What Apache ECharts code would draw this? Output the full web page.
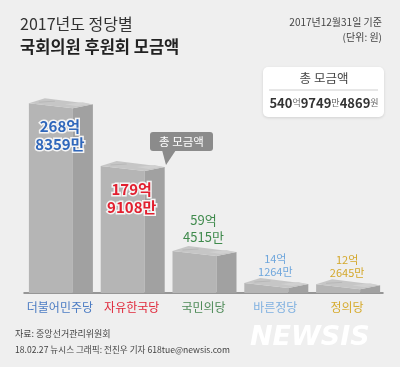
<!DOCTYPE html>
<html>
<head>
<meta charset="utf-8">
<script src="https://cdn.jsdelivr.net/npm/echarts@6/dist/echarts.min.js"></script>
<style>
html,body{margin:0;padding:0;background:#efefef;}
#chart{width:400px;height:367px;}
</style>
</head>
<body>
<div id="chart"></div>
<script>
// ---- data ----
const categories = ['더불어민주당', '자유한국당', '국민의당', '바른정당', '정의당'];
const eokValues = [268, 179, 59, 14, 12];       // 억 part
const manValues = [8359, 9108, 4515, 1264, 2645]; // 만 part
const totalParts = [540, 9749, 4869];           // 억, 만, 원

// ---- styles (kept separate) ----
const partyColors = ['#2f67bb', '#e21f2f', '#3f8a4c', '#6ea6dc', '#d3a72a'];
const catLabelColors = ['#4c7cc3', '#e0283a', '#4d8a57', '#7fb0e0', '#d6ab2e'];
const FONT = '"Noto Sans CJK KR", "Noto Sans", sans-serif';

const values = eokValues.map((e, i) => e + manValues[i] / 10000);
const seriesData = values.map((v, i) => [i, v]);

const labelSize = [15, 15, 13, 11, 11];
const labelBold = [true, true, false, false, false];
const labelLH = [18, 18, 17, 13, 13];

const chart = echarts.init(document.getElementById('chart'), null, {renderer: 'canvas'});

function renderItem(params, api) {
  const i = api.value(0);
  const v = api.value(1);
  const top = api.coord([i, v]);
  const base = api.coord([i, 0]);
  const c = top[0], yt = top[1], yb = base[1];
  const x0 = c - 31, x1 = c + 13, x2 = c + 33;
  const inside = i < 2;
  const txt = eokValues[i] + '억\n' + manValues[i] + '만';
  const textEl = {
    type: 'text',
    z2: 10,
    style: {
      text: txt,
      x: c,
      y: inside ? yt + 14 : yt - 5,
      align: 'center',
      verticalAlign: inside ? 'top' : 'bottom',
      fill: partyColors[i],
      fontSize: labelSize[i],
      fontWeight: labelBold[i] ? 'bold' : 'normal',
      fontFamily: FONT,
      lineHeight: labelLH[i],
      stroke: inside ? '#f4f4f4' : null,
      lineWidth: inside ? 3 : 0
    }
  };
  return {
    type: 'group',
    children: [
      {type: 'polygon', shape: {points: [[x0, yt], [x1, yt + 5], [x1, yb], [x0, yb]]},
       style: {fill: '#b5b5b5'}},
      {type: 'polygon', shape: {points: [[x1, yt + 5], [x2, yt + 1], [x2, yb], [x1, yb]]},
       style: {fill: '#a1a1a1'}},
      {type: 'polygon', shape: {points: [[x0, yt], [x0 + 16, yt - 5], [x2, yt + 1], [x1, yt + 5]]},
       style: {fill: '#c6c6c6'}},
      {type: 'polyline', shape: {points: [[x0 + 10, yt - 1], [x0 + 26, yt - 2]]},
       style: {stroke: '#b8b8b8', lineWidth: 1}},
      {type: 'polygon', shape: {points: [[x1 - 8, yt + 1], [x1 + 10, yt - 1], [x2 - 2, yt + 1], [x1 + 4, yt + 3]]},
       style: {fill: '#d0d0d0'}},
      textEl
    ]
  };
}

const richCats = {};
catLabelColors.forEach((col, i) => {
  richCats['c' + i] = {color: col, fontSize: 12, fontFamily: FONT};
});

const option = {
  backgroundColor: '#efefef',
  animation: false,
  grid: {left: 24, right: 17, top: 60, bottom: 74},
  xAxis: {
    type: 'category',
    data: categories,
    axisLine: {show: true, lineStyle: {color: '#7a7a7a', width: 1.5}},
    axisTick: {show: false},
    axisLabel: {
      interval: 0,
      margin: 8,
      fontSize: 12,
      fontFamily: FONT,
      formatter: (val) => '{c' + categories.indexOf(val) + '|' + val + '}',
      rich: richCats
    }
  },
  yAxis: {type: 'value', min: 0, max: 330, show: false, splitLine: {show: false}},
  series: [{
    type: 'custom',
    renderItem: renderItem,
    data: seriesData,
    clip: false
  }],
  graphic: [
    {type: 'text', left: 20, top: 16, style: {text: '2017년도 정당별', fontSize: 16, fontFamily: FONT, fill: '#333'}},
    {type: 'text', left: 20, top: 38, style: {text: '국회의원 후원회 모금액', fontSize: 16.5, fontWeight: 'bold', fontFamily: FONT, fill: '#222'}},
    {type: 'text', right: 18, top: 17, style: {text: '2017년12월31일 기준', fontSize: 10, fontFamily: FONT, fill: '#444', align: 'right'}},
    {type: 'text', right: 18, top: 32, style: {text: '(단위: 원)', fontSize: 10, fontFamily: FONT, fill: '#444', align: 'right'}},
    // total box
    {type: 'rect', shape: {x: 263, y: 67, width: 121, height: 50, r: 5},
     style: {fill: '#ffffff', shadowBlur: 3, shadowColor: 'rgba(0,0,0,0.12)', shadowOffsetY: 1}},
    {type: 'text', x: 324, y: 78, style: {text: '총 모금액', fontSize: 12.5, fontFamily: FONT, fill: '#444', align: 'center', verticalAlign: 'middle'}},
    {type: 'line', shape: {x1: 269, y1: 90, x2: 378, y2: 90}, style: {stroke: '#cfcfcf', lineWidth: 1}},
    {type: 'text', x: 324, y: 103, style: {
      text: '{n|' + totalParts[0] + '}{u|억}{n|' + totalParts[1] + '}{u|만}{n|' + totalParts[2] + '}{u|원}',
      align: 'center', verticalAlign: 'middle',
      rich: {
        n: {fontSize: 13, fontWeight: 'bold', fontFamily: FONT, fill: '#333', color: '#333'},
        u: {fontSize: 9, fontFamily: FONT, fill: '#666', color: '#666'}
      }
    }},
    // callout
    {type: 'rect', shape: {x: 150, y: 132, width: 63, height: 19, r: 3}, style: {fill: '#8b8b8b'}},
    {type: 'polygon', shape: {points: [[162, 150], [176, 150], [166, 165]]}, style: {fill: '#8b8b8b'}},
    {type: 'text', x: 181.5, y: 141.5, style: {text: '총 모금액', fontSize: 11.5, fontFamily: FONT, fill: '#fff', align: 'center', verticalAlign: 'middle'}},
    // footer
    {type: 'text', left: 15, top: 329, style: {text: '자료: 중앙선거관리위원회', fontSize: 9, fontFamily: FONT, fill: '#444'}},
    {type: 'text', left: 15, top: 345, style: {text: '18.02.27 뉴시스 그래픽: 전진우 기자 618tue@newsis.com', fontSize: 8.6, fontFamily: FONT, fill: '#444'}},
    {type: 'text', x: 250, y: 338, style: {
      text: 'NEWSIS', fontSize: 27, fontWeight: 900, fontStyle: 'italic', fontFamily: '"DejaVu Sans", sans-serif',
      fill: '#ffffff', verticalAlign: 'middle', align: 'left',
      shadowBlur: 2, shadowColor: 'rgba(0,0,0,0.12)'
    }}
  ]
};
chart.setOption(option);
</script>
</body>
</html>
